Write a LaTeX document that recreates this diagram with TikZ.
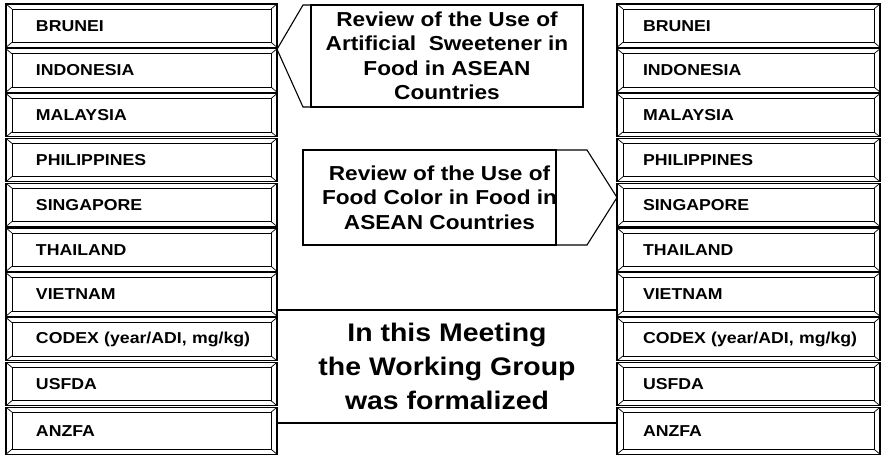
\documentclass[tikz,border=0pt]{standalone}
\usepackage{fontspec}
\newfontfamily\panelfont{Liberation Sans}[FakeStretch=1.12]
\usetikzlibrary{positioning}

\begin{document}
\begin{tikzpicture}[x=1pt, y=-1pt, line width=1.1pt,
    country/.style={draw, rectangle, outer sep=0pt, inner xsep=6pt, inner ysep=0pt,
        minimum height=43.3pt, align=left, font=\panelfont\bfseries\fontsize{15.8}{18}\selectfont,
        path picture={
          \draw[line width=0.7pt] ([shift={(6pt,-5pt)}]path picture bounding box.north west)
              rectangle ([shift={(-6pt,5pt)}]path picture bounding box.south east);
          \draw[line width=0.7pt] (path picture bounding box.north west) -- ++(6pt,-5pt)
              (path picture bounding box.north east) -- ++(-6pt,-5pt)
              (path picture bounding box.south west) -- ++(6pt,5pt)
              (path picture bounding box.south east) -- ++(-6pt,5pt);
        }},
    leftcountry/.style={country, text width=259pt, execute at begin node=\hspace*{24pt}},
    rightcountry/.style={country, text width=251pt, execute at begin node=\hspace*{20pt}},
    callout/.style={draw, rectangle, outer sep=0pt, inner sep=0pt, align=center,
        font=\panelfont\bfseries\fontsize{20.2}{24.5}\selectfont}]
    \useasboundingbox (0,0) rectangle (885,457);

    % left column
    \node[leftcountry] (lbrunei) at (141.5,25.65) {BRUNEI};
    \node[leftcountry, below=1.5pt of lbrunei] (lindonesia) {INDONESIA};
    \node[leftcountry, below=1.5pt of lindonesia] (lmalaysia) {MALAYSIA};
    \node[leftcountry, below=1.5pt of lmalaysia] (lphilippines) {PHILIPPINES};
    \node[leftcountry, below=1.5pt of lphilippines] (lsingapore) {SINGAPORE};
    \node[leftcountry, below=1.5pt of lsingapore] (lthailand) {THAILAND};
    \node[leftcountry, below=1.5pt of lthailand] (lvietnam) {VIETNAM};
    \node[leftcountry, below=1.5pt of lvietnam] (lcodex) {CODEX (year/ADI, mg/kg)};
    \node[leftcountry, below=1.5pt of lcodex] (lusfda) {USFDA};
    \node[leftcountry, below=1.5pt of lusfda, minimum height=47pt] (lanzfa) {ANZFA};

    % right column
    \node[rightcountry] (rbrunei) at (748.5,25.65) {BRUNEI};
    \node[rightcountry, below=1.5pt of rbrunei] (rindonesia) {INDONESIA};
    \node[rightcountry, below=1.5pt of rindonesia] (rmalaysia) {MALAYSIA};
    \node[rightcountry, below=1.5pt of rmalaysia] (rphilippines) {PHILIPPINES};
    \node[rightcountry, below=1.5pt of rphilippines] (rsingapore) {SINGAPORE};
    \node[rightcountry, below=1.5pt of rsingapore] (rthailand) {THAILAND};
    \node[rightcountry, below=1.5pt of rthailand] (rvietnam) {VIETNAM};
    \node[rightcountry, below=1.5pt of rvietnam] (rcodex) {CODEX (year/ADI, mg/kg)};
    \node[rightcountry, below=1.5pt of rcodex] (rusfda) {USFDA};
    \node[rightcountry, below=1.5pt of rusfda, minimum height=47pt] (ranzfa) {ANZFA};

    % callouts
    \node[callout, minimum width=272pt, minimum height=102pt] (sweetener) at (447,56)
        {Review of the Use of\\Artificial\ \ Sweetener in\\Food in ASEAN\\Countries};
    \draw (sweetener.north west) -- ++(-8,0) -- ([yshift=-2pt]lbrunei.south east)
        -- ([xshift=-8pt]sweetener.south west) -- (sweetener.south west);

    \node[callout, minimum width=253pt, minimum height=95pt] (colorbox) at (429.5,197.5) {};
    \node[callout, draw=none] (colortext) at ([xshift=10pt]colorbox.center)
        {Review of the Use of\\Food Color in Food in\\ASEAN Countries};
    \draw (colorbox.north east) -- ++(31,0) -- (rsingapore.west |- colorbox.center)
        -- ([xshift=31pt]colorbox.south east) -- (colorbox.south east);

    \node[callout, draw=none, minimum width=340pt, minimum height=113pt,
        font=\panelfont\bfseries\fontsize{25.4}{34}\selectfont] (meeting) at (447,366.5)
        {In this Meeting\\the Working Group\\was formalized};
    \draw (meeting.north west) -- (meeting.north east)
        (meeting.south west) -- (meeting.south east);
\end{tikzpicture}
\end{document}
